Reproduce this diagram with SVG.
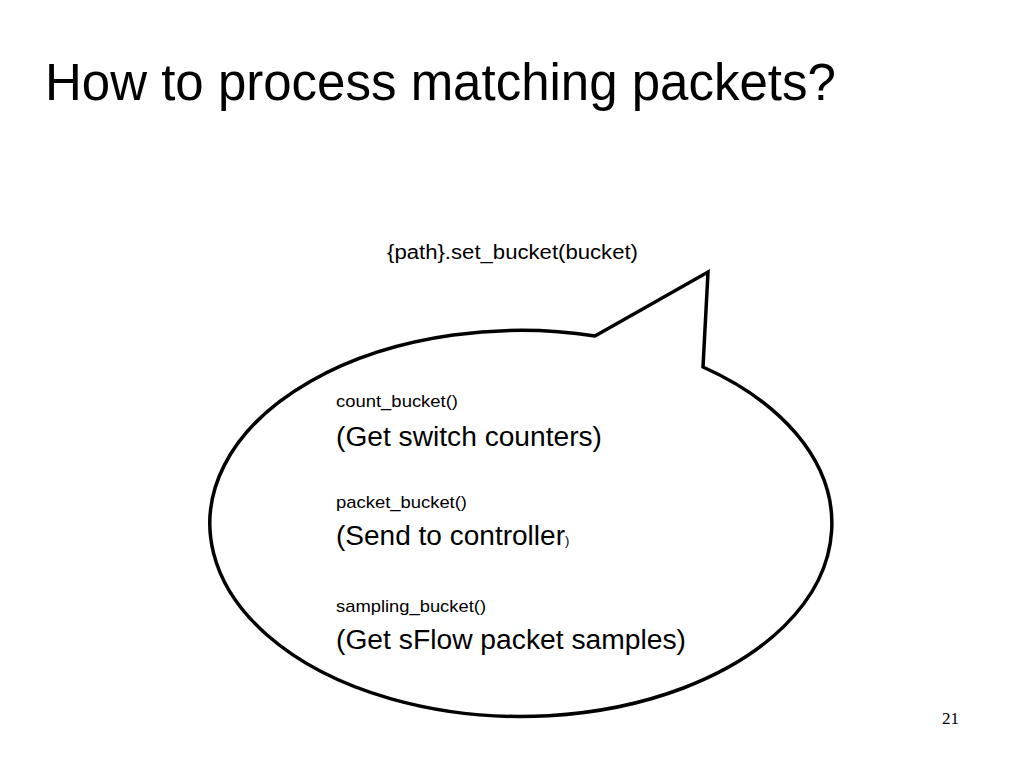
<svg xmlns="http://www.w3.org/2000/svg" width="1024" height="768" viewBox="0 0 1024 768">
<style>
.sans{font-family:"Liberation Sans",Arial,sans-serif;fill:#000}
.title{font-size:51px}
.code{font-size:17px}
.big{font-size:27px}
.bubble{fill:#fff;stroke:#000;stroke-width:3.5;stroke-linejoin:miter}
</style>
<rect width="1024" height="768" fill="#fff"/>
<g id="title"><text class="sans title" x="45" y="100">How to process matching packets?</text></g>
<g id="caption"><text class="sans" x="387" y="259" font-size="20" textLength="251" lengthAdjust="spacingAndGlyphs">{path}.set_bucket(bucket)</text></g>
<g id="bubble">
<path class="bubble" d="M 703 367 A 311 193 0 1 1 595 336 L 708 272 Z"/>
<text class="sans code" x="336" y="407" textLength="122" lengthAdjust="spacingAndGlyphs">count_bucket()</text>
<text class="sans big" x="336" y="446" textLength="266" lengthAdjust="spacingAndGlyphs">(Get switch counters)</text>
<text class="sans code" x="336" y="508" textLength="131" lengthAdjust="spacingAndGlyphs">packet_bucket()</text>
<text class="sans big" x="336" y="545"><tspan textLength="229" lengthAdjust="spacingAndGlyphs">(Send to controller</tspan><tspan font-size="13">)</tspan></text>
<text class="sans code" x="336" y="612" textLength="150" lengthAdjust="spacingAndGlyphs">sampling_bucket()</text>
<text class="sans big" x="336" y="649" textLength="350" lengthAdjust="spacingAndGlyphs">(Get sFlow packet samples)</text>
</g>
<g id="page"><text x="942" y="724" font-family="'Liberation Serif','Times New Roman',serif" font-size="17">21</text></g>
</svg>
